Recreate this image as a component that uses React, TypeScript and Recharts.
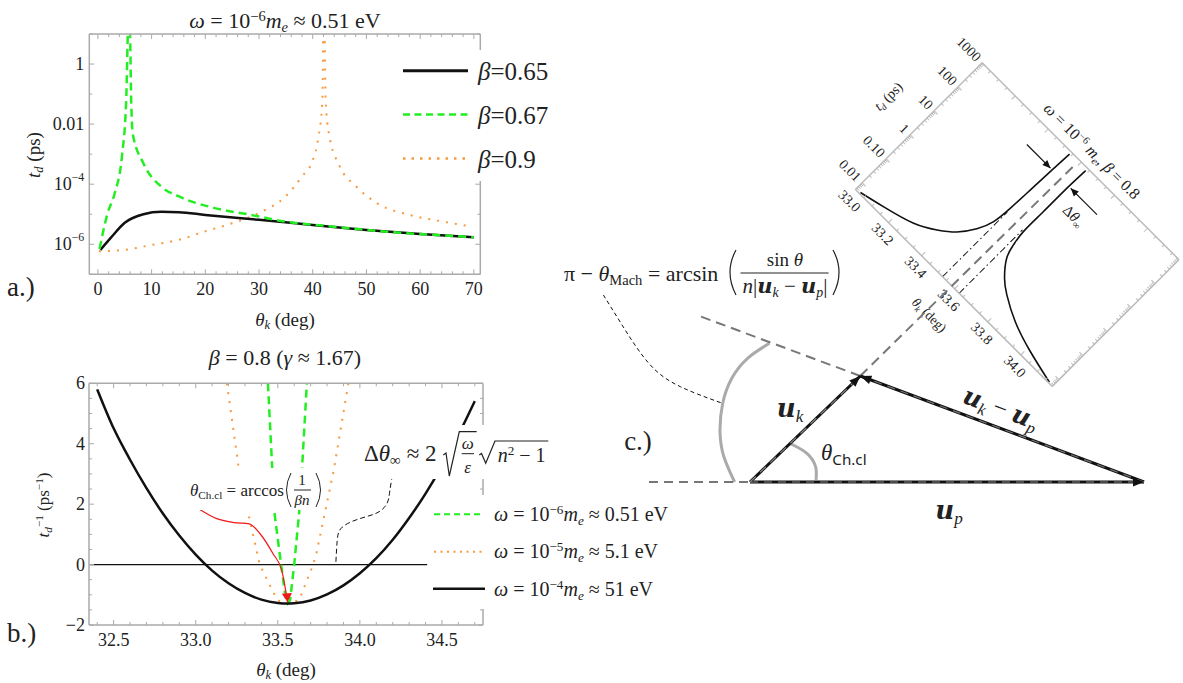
import React from 'react'
import { ComposedChart, Line, XAxis, YAxis } from 'recharts'

const SERIF = '"Liberation Serif", serif'
const FRAME = '#aaaaaa'
const INK = '#222222'
const GREEN = '#22ee22'
const ORANGE = '#f79a3e'

// panel a: t_d against theta_k on a log axis
const thetaA65 = [0.47, 2.47, 5, 8.47, 11.8, 15.1, 20, 30, 40, 50, 60, 70]
const tdA65 = [6.5e-7, 1.7e-6, 5.2e-6, 1e-5, 1.2e-5, 1.17e-5, 9.5e-6, 6.5e-6, 4.4e-6, 3e-6, 2.2e-6, 1.7e-6]
const thetaA67 = [0.3, 1.8, 3.13, 4.47, 5.27, 5.67, 5.93, 6.2, 6.47, 8.47, 11.8, 15.1, 21.8, 28.5, 35.1, 41.8, 48.5, 55.1, 61.8, 70]
const tdA67 = [7e-7, 1.07e-5, 5e-5, 8.3e-4, 0.063, 20, 20, 0.063, 5e-3, 5e-4, 8.3e-5, 3.9e-5, 1.6e-5, 9.5e-6, 5.6e-6, 4.2e-6, 3.2e-6, 2.5e-6, 2.1e-6, 1.7e-6]
const thetaA90 = [0.2, 5, 10, 15, 20, 25, 30, 35, 38, 40, 41, 41.8, 42, 42.15, 42.4, 43, 45, 48, 52, 58, 64, 69.5]
const tdA90 = [5.8e-7, 6.5e-7, 9.5e-7, 1.4e-6, 2.7e-6, 5e-6, 1.1e-5, 4e-5, 1.8e-4, 6.3e-4, 3.2e-3, 0.063, 20, 20, 0.063, 5e-3, 4e-4, 8.7e-5, 2.3e-5, 9.5e-6, 5.8e-6, 3.9e-6]
const xTicksA = Array.from({ length: 36 }, (_, i) => i * 2)
const xMajorA = [0, 10, 20, 30, 40, 50, 60, 70]
const yTicksA = [10, 1, 0.1, 0.01, 0.001, 1e-4, 1e-5, 1e-6, 1e-7]
const yLabelsA = new Map<number, string[]>([[1, ['1']], [0.01, ['0.01']], [1e-4, ['10', '−4']], [1e-6, ['10', '−6']]])

// panel b: inverse t_d against theta_k
const thetaB4 = [32.4, 32.5, 32.6, 32.7, 32.8, 32.9, 33, 33.1, 33.2, 33.3, 33.4, 33.5, 33.56, 33.6, 33.7, 33.8, 33.9, 34, 34.1, 34.2, 34.3, 34.4, 34.5, 34.6, 34.7]
const invB4 = [5.8, 4.51, 3.47, 2.53, 1.69, 0.96, 0.33, -0.2, -0.62, -0.94, -1.16, -1.27, -1.29, -1.28, -1.19, -0.99, -0.69, -0.29, 0.21, 0.82, 1.54, 2.35, 3.27, 4.29, 5.41]
const thetaB6 = [33.44, 33.466, 33.48, 33.52, 33.55, 33.56, 33.575, 33.6, 33.63, 33.648, 33.677]
const invB6 = [6, 3.2, 1.7, 0, -1.18, -1.29, -1.18, 0, 1.7, 3.2, 6]
const thetaB5 = [33.19, 33.26, 33.32, 33.39, 33.497, 33.56, 33.63, 33.715, 33.735, 33.84, 33.93]
const invB5 = [6, 3.28, 1.7, 0, -1.18, -1.29, -1.18, 0, 0.36, 3.1, 6]
const thetaRed = [33.022, 33.128, 33.233, 33.326, 33.392, 33.471, 33.524, 33.56]
const invRed = [1.83, 1.52, 1.39, 1.35, 1.02, 0.36, -0.19, -1.25]
const thetaNote = [33.854, 33.862, 33.893, 33.999, 34.104, 34.165, 34.183, 34.205]
const invNote = [0.09, 0.8, 1.24, 1.52, 1.71, 2.02, 2.46, 3.17]
const thetaZero = [32.35, 34.41]
const invZero = [0, 0]
const xTicksB = Array.from({ length: 24 }, (_, i) => Number((32.4 + i * 0.1).toFixed(1)))
const xMajorB = [32.5, 33, 33.5, 34, 34.5]
const yTicksB = Array.from({ length: 17 }, (_, i) => -2 + i * 0.5)
const yMajorB = [-2, 0, 2, 4, 6]

// panel c inset: t_d near the Cherenkov angle
const thetaInL = [33.024, 33.138, 33.278, 33.369, 33.435, 33.486, 33.515, 33.525, 33.53, 33.535, 33.54]
const tdInL = [0.0058, 0.0089, 0.017, 0.038, 0.089, 0.27, 0.85, 3.55, 22.9, 145, 832]
const thetaInR = [34.168, 34.017, 33.881, 33.776, 33.719, 33.665, 33.645, 33.635, 33.635, 33.635, 33.639]
const tdInR = [0.0056, 0.0098, 0.02, 0.048, 0.095, 0.275, 0.72, 2.2, 14.8, 105, 813]
const thetaAsymL = [33.527, 33.527]
const tdAsymL = [0.00525, 2.6]
const thetaAsymR = [33.627, 33.627]
const tdAsymR = [0.00525, 2.3]
const thetaMarkL = [33.382, 33.525]
const thetaMarkR = [33.806, 33.647]
const tdMark = [170, 170]
const xTicksIn = Array.from({ length: 24 }, (_, i) => Number((33 + i * 0.05).toFixed(2)))
const xMajorIn = [33, 33.2, 33.4, 33.6, 33.8, 34]
const decadesIn = [0.01, 0.1, 1, 10, 100, 1000]
const yTicksIn = [0.006, 0.007, 0.008, 0.009, ...decadesIn.slice(0, 5).flatMap((d) => [2, 3, 4, 5, 6, 7, 8, 9].map((m) => Number((m * d).toPrecision(2)))), ...decadesIn]
const yLabelsIn = new Map<number, string[]>([[0.01, ['0.01']], [0.1, ['0.10']], [1, ['1']], [10, ['10']], [100, ['100']], [1000, ['1000']]])

// panel c triangle, in units measured from the corner where u_k and u_p start
const upX = [0, 394]
const upY = [0, 0]
const ukX = [0, 110.3]
const ukY = [0, 106]
const diffX = [394, 110.3]
const diffY = [0, 106]
const backX = [-101, 0]
const backY = [0, 0]
const machX = [110.3, -50.6]
const machY = [106, 166]
const chX = [110.3, 326.7]
const chY = [106, 319]
const bigArcX = [19.4, -2.4, -18.2, -27.3, -30, -26.1, -15.4]
const bigArcY = [138.7, 123.7, 103.7, 78.7, 50.3, 25.3, 0]
const smallArcX = [41.1, 56.9, 65.6, 66]
const smallArcY = [38, 28.7, 15.3, 2]
const leaderX = [-146.6, -129, -101.2, -69.6, -29.2]
const leaderY = [187, 158.7, 118.7, 95.3, 79.3]

const rows = (xs: number[], ys: number[]) => xs.map((x, i) => ({ x, y: ys[i] }))

type Side = 'left' | 'right' | 'top' | 'bottom'

interface TickOpts {
  side: Side
  color: string
  major: (v: number) => boolean
  label?: (v: number) => string[] | null
  size?: number
  gap?: number
  shift?: number
  long?: number
  short?: number
}

const frameTick = ({ side, color, major, label, size = 18, gap = 5, shift = 0, long = 5, short = 3 }: TickOpts) => (props: any) => {
  const { x, y, payload } = props
  const len = major(payload.value) ? long : short
  const dx = side === 'left' ? len : side === 'right' ? -len : 0
  const dy = side === 'top' ? len : side === 'bottom' ? -len : 0
  const parts = label ? label(payload.value) : null
  return (
    <g>
      <line x1={x} y1={y} x2={x + dx} y2={y + dy} stroke={color} strokeWidth={1} />
      {parts && side === 'bottom' && (
        <text x={x + shift} y={y + gap} textAnchor="middle" dominantBaseline="central" fontFamily={SERIF} fontSize={size} fill={INK}>
          {parts[0]}
        </text>
      )}
      {parts && side === 'left' && (
        <text x={x - gap} y={y} textAnchor="end" dominantBaseline="central" fontFamily={SERIF} fontSize={size} fill={INK}>
          {parts[0]}
          {parts[1] && (
            <tspan dy={-7} fontSize={size * 0.66}>
              {parts[1]}
            </tspan>
          )}
        </text>
      )}
    </g>
  )
}

interface AxesOpts {
  w: number[] // left, right, top, bottom reserved space
  xDomain: number[]
  yDomain: number[]
  xTicks: number[]
  yTicks: number[]
  xMajor: (v: number) => boolean
  yMajor: (v: number) => boolean
  xLabel: (v: number) => string[] | null
  yLabel: (v: number) => string[] | null
  log?: boolean
  color?: string
  size?: number
  xGap?: number
  yGap?: number
  xShift?: number
}

const frameAxes = ({ w, xDomain, yDomain, xTicks, yTicks, xMajor, yMajor, xLabel, yLabel, log, color = FRAME, size, xGap = 15, yGap = 5, xShift = 0 }: AxesOpts) => {
  const axisLine = { stroke: color, strokeWidth: 1.5 }
  const common = { allowDataOverflow: true, type: 'number' as const, interval: 0 as const, tickSize: 0, tickMargin: 0, tickLine: false, axisLine }
  return (
    <>
      <XAxis {...common} xAxisId="b" dataKey="x" orientation="bottom" height={w[3]} domain={xDomain} ticks={xTicks} tick={frameTick({ side: 'bottom', color, major: xMajor, label: xLabel, size, gap: xGap, shift: xShift })} />
      <XAxis {...common} xAxisId="t" dataKey="x" orientation="top" height={w[2]} domain={xDomain} ticks={xTicks} tick={frameTick({ side: 'top', color, major: xMajor })} />
      <YAxis {...common} yAxisId="l" orientation="left" width={w[0]} domain={yDomain} ticks={yTicks} scale={log ? 'log' : 'linear'} tick={frameTick({ side: 'left', color, major: yMajor, label: yLabel, size, gap: yGap })} />
      <YAxis {...common} yAxisId="r" orientation="right" width={w[1]} domain={yDomain} ticks={yTicks} scale={log ? 'log' : 'linear'} tick={frameTick({ side: 'right', color, major: yMajor })} />
    </>
  )
}

const arrowTip = (last: number, angle: number, color: string, len = 11, half = 4.5) => (props: any) => {
  const { cx, cy, index } = props
  if (index !== last) return <g key={index} />
  return <polygon key={index} points={`0,0 ${-len},${-half} ${-len},${half}`} fill={color} transform={`translate(${cx},${cy}) rotate(${angle})`} />
}

const curve = (key: string, xs: number[], ys: number[], color: string, width: number, extra: any = {}) => (
  <Line key={key} xAxisId="b" yAxisId="l" data={rows(xs, ys)} dataKey="y" type="linear" stroke={color} strokeWidth={width} dot={false} isAnimationActive={false} {...extra} />
)

const I = ({ children }: { children: React.ReactNode }) => <span style={{ fontStyle: 'italic' }}>{children}</span>
const Sup = ({ children }: { children: React.ReactNode }) => <span style={{ fontSize: '0.66em', verticalAlign: '0.5em', lineHeight: 0 }}>{children}</span>
const Sub = ({ children }: { children: React.ReactNode }) => <span style={{ fontSize: '0.66em', verticalAlign: '-0.3em', lineHeight: 0 }}>{children}</span>
const Bold = ({ children }: { children: React.ReactNode }) => <span style={{ fontFamily: '"DejaVu Serif", serif', fontWeight: 700, fontStyle: 'italic' }}>{children}</span>

interface TProps {
  x: number
  y: number
  size: number
  rot?: number
  left?: boolean
  color?: string
  children: React.ReactNode
}

const T = ({ x, y, size, rot = 0, left, color = INK, children }: TProps) => (
  <div
    style={{
      position: 'absolute',
      left: x,
      top: y,
      transform: `translate(${left ? '0' : '-50%'},-50%) rotate(${rot}deg)`,
      fontFamily: SERIF,
      fontSize: size,
      lineHeight: 1,
      whiteSpace: 'nowrap',
      color,
    }}
  >
    {children}
  </div>
)

const Mask = ({ x, y, w, h }: { x: number; y: number; w: number; h: number }) => (
  <div style={{ position: 'absolute', left: x, top: y, width: w, height: h, background: '#fff' }} />
)

const PanelA = () => (
  <div style={{ position: 'absolute', left: 0, top: 0 }}>
    <ComposedChart width={500} height={300} margin={{ top: 0, right: 0, bottom: 0, left: 0 }}>
      {frameAxes({
        w: [89.3, 19.7, 34, 25.7],
        xDomain: [-1.6, 71.2],
        yDomain: [1e-7, 10],
        xTicks: xTicksA,
        yTicks: yTicksA,
        xMajor: (v) => xMajorA.includes(v),
        yMajor: (v) => yLabelsA.has(v),
        xLabel: (v) => (xMajorA.includes(v) ? [String(v)] : null),
        yLabel: (v) => yLabelsA.get(v) ?? null,
        log: true,
      })}
      {curve('o', thetaA90, tdA90, ORANGE, 2, { strokeDasharray: '2 7', type: 'monotone' })}
      {curve('k', thetaA65, tdA65, '#111', 2.5, { type: 'monotone' })}
      {curve('g', thetaA67, tdA67, GREEN, 2.5, { strokeDasharray: '8 5', type: 'monotone' })}
    </ComposedChart>
  </div>
)

const PanelB = () => (
  <div style={{ position: 'absolute', left: 0, top: 340 }}>
    <ComposedChart width={500} height={310} margin={{ top: 0, right: 0, bottom: 0, left: 0 }}>
      {frameAxes({
        w: [89, 17, 43.3, 25],
        xDomain: [32.35, 34.75],
        yDomain: [-2, 6],
        xTicks: xTicksB,
        yTicks: yTicksB,
        xMajor: (v) => xMajorB.includes(v),
        yMajor: (v) => yMajorB.includes(v),
        xLabel: (v) => (xMajorB.includes(v) ? [v.toFixed(1)] : null),
        yLabel: (v) => (yMajorB.includes(v) ? [String(v).replace('-', '−')] : null),
        yGap: 4,
      })}
      {curve('z', thetaZero, invZero, '#111', 1.2)}
      {curve('o', thetaB5, invB5, ORANGE, 2, { strokeDasharray: '2 7' })}
      {curve('g', thetaB6, invB6, GREEN, 2.5, { strokeDasharray: '8 5' })}
      {curve('k', thetaB4, invB4, '#111', 2.5, { type: 'monotone' })}
      {curve('note', thetaNote, invNote, '#111', 1, { strokeDasharray: '5 3', type: 'natural' })}
      {curve('red', thetaRed, invRed, '#f01818', 1.2, { type: 'monotone', dot: arrowTip(thetaRed.length - 1, 85, '#f01818', 9, 5) })}
    </ComposedChart>
  </div>
)

const Inset = () => (
  <div style={{ position: 'absolute', left: 827.5, top: 84.7, width: 378.4, height: 279.2, transform: 'rotate(45deg)' }}>
    <ComposedChart width={378.4} height={279.2} margin={{ top: 0, right: 0, bottom: 0, left: 0 }}>
      {frameAxes({
        w: [50, 50, 50, 50],
        xDomain: [33, 34.19],
        yDomain: [0.00525, 1000],
        xTicks: xTicksIn,
        yTicks: yTicksIn,
        xMajor: (v) => xMajorIn.includes(v),
        yMajor: (v) => yLabelsIn.has(v),
        xLabel: (v) => (xMajorIn.includes(v) ? [v.toFixed(1)] : null),
        yLabel: (v) => yLabelsIn.get(v) ?? null,
        log: true,
        color: '#bbbbbb',
        size: 14,
        xGap: 12.5,
        yGap: 5,
        xShift: 4,
      })}
      {curve('al', thetaAsymL, tdAsymL, '#111', 1, { strokeDasharray: '7 3 1.5 3' })}
      {curve('ar', thetaAsymR, tdAsymR, '#111', 1, { strokeDasharray: '7 3 1.5 3' })}
      {curve('l', thetaInL, tdInL, '#111', 1.6, { type: 'natural' })}
      {curve('r', thetaInR, tdInR, '#111', 1.6, { type: 'natural' })}
      {curve('ml', thetaMarkL, tdMark, '#111', 1.2, { dot: arrowTip(1, 0, '#111', 8, 3.5) })}
      {curve('mr', thetaMarkR, tdMark, '#111', 1.2, { dot: arrowTip(1, 180, '#111', 8, 3.5) })}
    </ComposedChart>
    <T x={190} y={35} size={16}>
      <I>ω</I> = 10<Sup>−6</Sup> <I>m</I><Sub><I>e</I></Sub>, <I>β</I> = 0.8
    </T>
    <T x={8} y={140} size={14} rot={-90}>
      <I>t</I><Sub><I>d</I></Sub> (ps)
    </T>
    <T x={191} y={266} size={13.5}>
      <I>θ</I><Sub><I>k</I></Sub> (deg)
    </T>
    <T x={223} y={94} size={15}>
      Δ<I>θ</I><Sub>∞</Sub>
    </T>
  </div>
)

const Triangle = () => (
  <div style={{ position: 'absolute', left: 590, top: 150 }}>
    <ComposedChart width={593} height={400} margin={{ top: 0, right: 0, bottom: 0, left: 0 }}>
      <XAxis hide xAxisId="b" dataKey="x" type="number" domain={[-160, 433]} allowDataOverflow />
      <YAxis hide yAxisId="l" type="number" domain={[-68, 332]} allowDataOverflow />
      {curve('arc', bigArcX, bigArcY, '#aaaaaa', 3, { type: 'natural' })}
      {curve('small', smallArcX, smallArcY, '#aaaaaa', 3, { type: 'natural' })}
      {curve('lead', leaderX, leaderY, '#111', 1, { strokeDasharray: '4 3', type: 'natural' })}
      {curve('back', backX, backY, '#777', 2, { strokeDasharray: '9 6' })}
      {curve('mach', machX, machY, '#777', 2, { strokeDasharray: '10 6' })}
      {curve('ch', chX, chY, '#777', 2, { strokeDasharray: '10 6' })}
      {curve('up', upX, upY, '#111', 3, { dot: arrowTip(1, 0, '#111') })}
      {curve('uk', ukX, ukY, '#111', 3, { dot: arrowTip(1, -43.9, '#111') })}
      {curve('diff', diffX, diffY, '#111', 3, { dot: arrowTip(1, 200.5, '#111') })}
      {curve('upd', upX, upY, '#888', 1.2, { strokeDasharray: '8 6' })}
      {curve('ukd', ukX, ukY, '#888', 1.2, { strokeDasharray: '8 6' })}
      {curve('diffd', diffX, diffY, '#777', 1.2, { strokeDasharray: '8 6' })}
    </ComposedChart>
  </div>
)

const Overlay = () => (
  <svg width={1183} height={683} style={{ position: 'absolute', left: 0, top: 0, pointerEvents: 'none' }}>
    {/* legend samples, panel a */}
    <line x1={403} x2={468} y1={70.7} y2={70.7} stroke="#111" strokeWidth={3} />
    <line x1={403} x2={468} y1={114.5} y2={114.5} stroke={GREEN} strokeWidth={2.5} strokeDasharray="7 4.5" />
    <line x1={403} x2={468} y1={158.4} y2={158.4} stroke={ORANGE} strokeWidth={2.5} strokeDasharray="2.5 6" />
    {/* legend samples, panel b */}
    <line x1={434} x2={482} y1={514.3} y2={514.3} stroke={GREEN} strokeWidth={2} strokeDasharray="6 4" />
    <line x1={434} x2={482} y1={551.7} y2={551.7} stroke={ORANGE} strokeWidth={2} strokeDasharray="2 4.5" />
    <line x1={433} x2={485} y1={588.7} y2={588.7} stroke="#111" strokeWidth={2.5} />
    {/* radicals of the opening-angle formula */}
    <polyline points="443.3,455 446,453 449.3,476 459.3,431.7 476.7,431.7" fill="none" stroke={INK} strokeWidth={1.2} />
    <polyline points="479.3,455 481.5,453.5 485.7,463.3 495,441 548.3,441" fill="none" stroke={INK} strokeWidth={1.2} />
    <line x1={461.7} x2={474} y1={453.7} y2={453.7} stroke={INK} strokeWidth={1} />
    {/* fraction bars and tall brackets */}
    <line x1={294} x2={311} y1={490} y2={490} stroke={INK} strokeWidth={1} />
    <line x1={740.5} x2={828.6} y1={273} y2={273} stroke={INK} strokeWidth={1} />
    <path d="M291 473 Q282 490 291 507" fill="none" stroke={INK} strokeWidth={1} />
    <path d="M316 473 Q325 490 316 507" fill="none" stroke={INK} strokeWidth={1} />
    <path d="M736 250 Q724 272 736 295" fill="none" stroke={INK} strokeWidth={1.2} />
    <path d="M833 250 Q845 272 833 295" fill="none" stroke={INK} strokeWidth={1.2} />
  </svg>
)

export default function App() {
  return (
    <div style={{ position: 'absolute', left: 0, top: 0, width: 1183, height: 683, overflow: 'hidden', background: '#fff' }}>
      <PanelA />
      <PanelB />
      <Inset />
      <Triangle />

      <Mask x={395} y={50} w={170} h={131} />
      <Mask x={364} y={425} w={186} h={54} />
      <Mask x={433} y={495} w={237} h={114} />
      <Mask x={188.6} y={468} w={134.4} h={42} />
      <Overlay />

      <T x={285} y={21} size={22}>
        <I>ω</I> = 10<Sup>−6</Sup><I>m</I><Sub><I>e</I></Sub> ≈ 0.51 eV
      </T>
      <T x={285} y={319} size={19}>
        <I>θ</I><Sub><I>k</I></Sub> (deg)
      </T>
      <T x={33} y={155} size={19} rot={-90}>
        <I>t</I><Sub><I>d</I></Sub> (ps)
      </T>
      <T x={478} y={71} size={25} left>
        <I>β</I>=0.65
      </T>
      <T x={478} y={115} size={25} left>
        <I>β</I>=0.67
      </T>
      <T x={478} y={159} size={25} left>
        <I>β</I>=0.9
      </T>
      <T x={7} y={287} size={27} left>
        a.)
      </T>

      <T x={285} y={358} size={22}>
        <I>β</I> = 0.8 (<I>γ</I> ≈ 1.67)
      </T>
      <T x={286} y={669} size={19}>
        <I>θ</I><Sub><I>k</I></Sub> (deg)
      </T>
      <T x={43} y={505} size={17} rot={-90}>
        <I>t</I><Sub><I>d</I></Sub><Sup>−1</Sup> (ps<Sup>−1</Sup>)
      </T>
      <T x={7} y={633} size={27} left>
        b.)
      </T>
      <T x={494} y={514} size={20} left>
        <I>ω</I> = 10<Sup>−6</Sup><I>m</I><Sub><I>e</I></Sub> ≈ 0.51 eV
      </T>
      <T x={494} y={551} size={20} left>
        <I>ω</I> = 10<Sup>−5</Sup><I>m</I><Sub><I>e</I></Sub> ≈ 5.1 eV
      </T>
      <T x={494} y={589} size={20} left>
        <I>ω</I> = 10<Sup>−4</Sup><I>m</I><Sub><I>e</I></Sub> ≈ 51 eV
      </T>

      <T x={364} y={453} size={23} left>
        Δ<I>θ</I><Sub>∞</Sub> ≈ 2
      </T>
      <T x={467.7} y={443} size={17}>
        <I>ω</I>
      </T>
      <T x={467.7} y={467} size={17}>
        <I>ε</I>
      </T>
      <T x={521.7} y={455} size={20}>
        <I>n</I><Sup>2</Sup> − 1
      </T>

      <T x={190} y={490} size={17} left>
        <I>θ</I><Sub>Ch.cl</Sub> = arccos
      </T>
      <T x={302} y={480} size={15}>1</T>
      <T x={302} y={500} size={15}>
        <I>βn</I>
      </T>

      <T x={564} y={274} size={22} left>
        π − <I>θ</I><Sub>Mach</Sub> = arcsin
      </T>
      <T x={785} y={259} size={19}>
        sin <I>θ</I>
      </T>
      <T x={785} y={286} size={21}>
        <I>n</I>|<Bold>u</Bold><Sub><I>k</I></Sub> − <Bold>u</Bold><Sub><I>p</I></Sub>|
      </T>

      <T x={638} y={441} size={27}>
        c.)
      </T>
      <T x={790} y={408} size={26}>
        <Bold>u</Bold><Sub><I>k</I></Sub>
      </T>
      <T x={1001} y={408} size={25} rot={20.5}>
        <Bold>u</Bold><Sub><I>k</I></Sub> − <Bold>u</Bold><Sub><I>p</I></Sub>
      </T>
      <T x={949} y={510} size={26}>
        <Bold>u</Bold><Sub><I>p</I></Sub>
      </T>
      <T x={821} y={452} size={23} left>
        <I>θ</I><Sub><span style={{ fontFamily: '"Noto Sans", sans-serif' }}>Ch.cl</span></Sub>
      </T>
    </div>
  )
}
